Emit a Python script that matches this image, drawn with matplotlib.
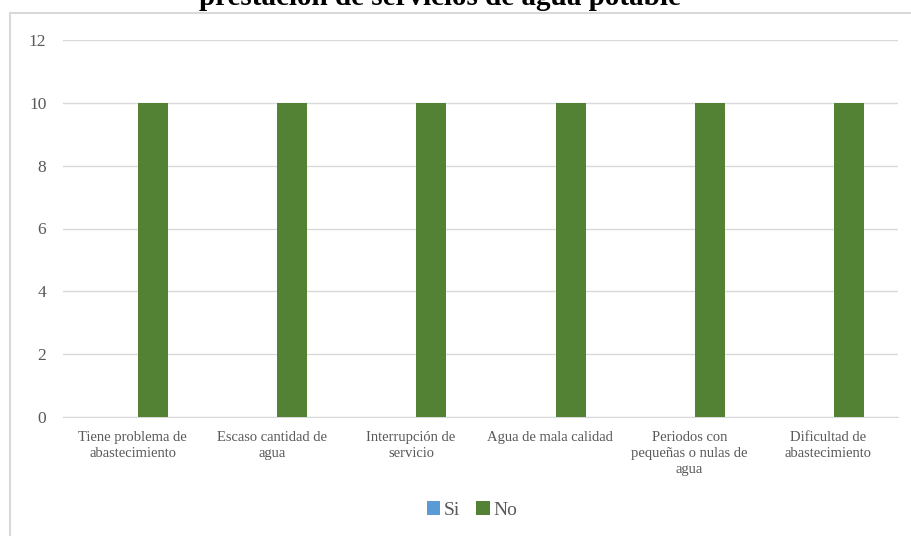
import matplotlib.pyplot as plt
from matplotlib.patches import Rectangle
import numpy as np

categorias = ["Tiene problema de\nabastecimiento", "Escaso cantidad de\nagua",
              "Interrupción de\nservicio", "Agua de mala calidad",
              "Periodos con\npequeñas o nulas de\nagua", "Dificultad de\nabastecimiento"]
si = [0, 0, 0, 0, 0, 0]
no = [10, 10, 10, 10, 10, 10]
yticks = [0, 2, 4, 6, 8, 10, 12]
titulo = "prestación de servicios de agua potable"

plt.rcParams['font.family'] = ['Liberation Serif', 'DejaVu Serif']

fig = plt.figure(figsize=(9.12, 5.36), dpi=100)
fig.patches.append(Rectangle((10/912, -0.1), 1.2, 1 - 13/536 + 0.1, transform=fig.transFigure,
                             facecolor='white', edgecolor='#d9d9d9', linewidth=1.5, zorder=-1))
fig.text(440/912, 1 - 5/536, titulo, ha='center', va='baseline', fontsize=21, fontweight='bold')

ax = fig.add_axes([63/912, 1 - 417/536, 835/912, 377/536])
ax.set_facecolor('none')
x = np.arange(len(categorias))
w = 0.215
ax.bar(x - 0.147, si, w, color='#5b9bd5', label='Si', zorder=3)
ax.bar(x + 0.147, no, w, color='#548235', label='No', zorder=3)

ax.set_xlim(-0.5, len(categorias) - 0.5)
ax.set_ylim(0, 12)
ax.set_yticks(yticks)
ax.set_xticks(x)
ax.set_xticklabels(categorias, fontsize=10.5, color='#595959', linespacing=1.3)
ax.tick_params(axis='y', labelsize=12.5, labelcolor='#595959', length=0, pad=12)
ax.tick_params(axis='x', length=0, pad=10)
ax.grid(axis='y', color='#d9d9d9', linewidth=1)
for s in ['top', 'right', 'left']:
    ax.spines[s].set_visible(False)
ax.spines['bottom'].set_color('#d9d9d9')

ax.legend(loc='center', bbox_to_anchor=(472/912, 1 - 510/536), bbox_transform=fig.transFigure,
          ncol=2, frameon=False, fontsize=14, handlelength=0.7, handleheight=0.7,
          handletextpad=0.2, columnspacing=0.8, labelcolor='#595959')

fig.savefig('out.png', dpi=100)
